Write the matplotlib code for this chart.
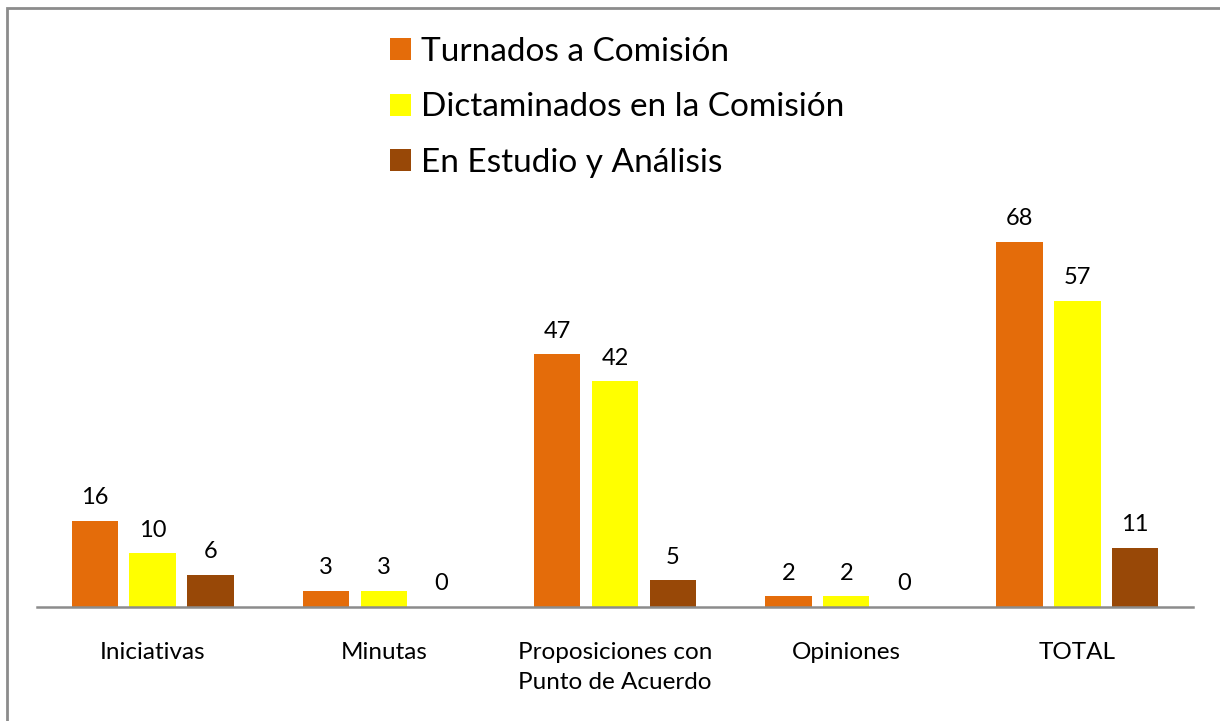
import numpy as np
import matplotlib.pyplot as plt
from matplotlib.patches import Rectangle

categories = ["Iniciativas", "Minutas", "Proposiciones con\nPunto de Acuerdo", "Opiniones", "TOTAL"]
series_names = ["Turnados a Comisión", "Dictaminados en la Comisión", "En Estudio y Análisis"]
turnados = [16, 3, 47, 2, 68]
dictaminados = [10, 3, 42, 2, 57]
en_estudio = [6, 0, 5, 0, 11]
colors = ["#E46C0A", "#FFFF00", "#984807"]

plt.rcParams["font.family"] = ["Lato", "DejaVu Sans"]

fig = plt.figure(figsize=(12.2, 7.21), dpi=100)
ax = fig.add_axes([37 / 1220, 1 - 607 / 721, 1156 / 1220, 430 / 721])

x = np.arange(len(categories))
width = 0.2
step = 0.25
for i, (vals, name, c) in enumerate(zip([turnados, dictaminados, en_estudio], series_names, colors)):
    pos = x + (i - 1) * step
    ax.bar(pos, vals, width=width, color=c, label=name)
    for p, v in zip(pos, vals):
        ax.annotate(str(v), (p, v), xytext=(0, 9), textcoords="offset points",
                    ha="center", va="bottom", fontsize=17)

ax.set_xlim(-0.5, len(categories) - 0.5)
ax.set_ylim(0, 80)
ax.set_xticks(x)
ax.set_xticklabels(categories, fontsize=17.5, linespacing=1.55)
ax.tick_params(axis="x", length=0, pad=25)
ax.set_yticks([])
for s in ["top", "right", "left"]:
    ax.spines[s].set_visible(False)
ax.spines["bottom"].set_color("#8c8c8c")
ax.spines["bottom"].set_linewidth(1.8)

fig.legend(loc="upper left", bbox_to_anchor=(390 / 1220, 1 - 37 / 721), frameon=False,
           fontsize=24, handlelength=0.64, handleheight=0.64, handletextpad=0.3,
           labelspacing=0.76, borderaxespad=0, borderpad=0)

# outer frame like the original chart area
fig.patches.append(Rectangle((7 / 1220, -0.1), 1.2, 1.1 - 8 / 721, transform=fig.transFigure,
                             fill=False, edgecolor="#8c8c8c", linewidth=2))

fig.savefig("out.png", dpi=100)
